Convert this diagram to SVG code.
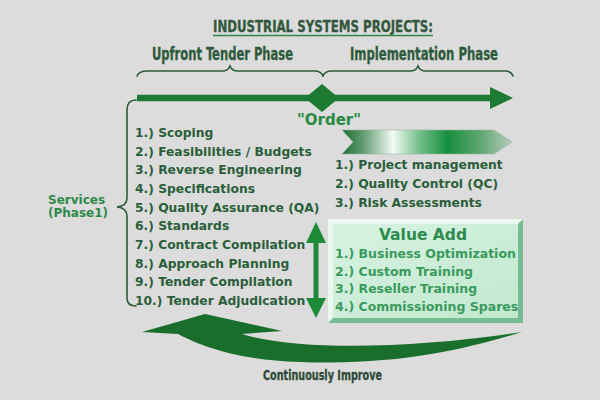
<svg xmlns="http://www.w3.org/2000/svg" width="600" height="400" viewBox="0 0 600 400">
<defs>
<style>
.cond{font-family:"DejaVu Sans Condensed","Liberation Sans Narrow","DejaVu Sans",sans-serif;font-weight:bold;font-stretch:condensed}
.lst{font-family:"DejaVu Sans","Verdana",sans-serif;font-weight:bold;font-size:12.3px;fill:#2b5e3a}
.va{font-family:"DejaVu Sans","Verdana",sans-serif;font-weight:bold;font-size:12.5px;fill:#3a9a5c}
.brace{fill:none;stroke:#2e5a3c;stroke-width:1.6;stroke-linecap:round}
.grn{fill:#1d7a32}
</style>
<linearGradient id="arrowGrad" x1="0" y1="0" x2="1" y2="0">
<stop offset="0" stop-color="#1f6e30"/>
<stop offset="0.12" stop-color="#5f9a6e"/>
<stop offset="0.3" stop-color="#f2fbf4"/>
<stop offset="0.45" stop-color="#78c08e"/>
<stop offset="0.62" stop-color="#16903e"/>
<stop offset="0.8" stop-color="#5aa46c"/>
<stop offset="1" stop-color="#b7ccbd"/>
</linearGradient>
<linearGradient id="faceGrad" x1="0" y1="0" x2="1" y2="1">
<stop offset="0" stop-color="#d6f3e1"/>
<stop offset="1" stop-color="#c2e8cf"/>
</linearGradient>
</defs>
<rect x="0" y="0" width="600" height="400" fill="#dbdcdb"/>

<g id="title">
<text class="cond" x="213" y="32" font-size="15.5" fill="#33573e" stroke="#33573e" stroke-width="0.3" textLength="220" lengthAdjust="spacingAndGlyphs">INDUSTRIAL SYSTEMS PROJECTS:</text>
<line x1="213" y1="35.5" x2="433" y2="35.5" stroke="#2f8a45" stroke-width="1.5"/>
</g>

<g id="phase-upfront">
<text class="cond" x="152" y="60" font-size="17" fill="#2f5a3c" stroke="#2f5a3c" stroke-width="0.3" textLength="141" lengthAdjust="spacingAndGlyphs">Upfront Tender Phase</text>
<path class="brace" d="M137,76 Q139,71 147,71 L222,71 Q228,71 230,66 Q232,71 238,71 L315,71 Q321,71 323,76"/>
</g>

<g id="phase-implementation">
<text class="cond" x="350" y="60" font-size="17" fill="#2f5a3c" stroke="#2f5a3c" stroke-width="0.3" textLength="148" lengthAdjust="spacingAndGlyphs">Implementation Phase</text>
<path class="brace" d="M323,76 Q325,71 331,71 L410,71 Q416,71 418,66 Q420,71 426,71 L505,71 Q511,71 513,76"/>
</g>

<g id="connectors">
<line x1="137" y1="98" x2="495" y2="98" stroke="#1d7a32" stroke-width="6.5"/>
<polygon class="grn" points="490,87 513,98 490,109"/>
<line x1="316" y1="238" x2="316" y2="302" stroke="#1d8a38" stroke-width="5"/>
<polygon points="316,222 306,243 326,243" fill="#1d8a38"/>
<polygon points="316,318 306,298 326,298" fill="#1d8a38"/>
<path d="M142,332 L205,314 L282,331 L242,334 C 300,352 420,348 522,332 C 470,348 400,366 300,362 C 240,360 205,348 178,334 Z" fill="#1a6e2c"/>
</g>

<g id="order">
<polygon class="grn" points="322,84 339,98 322,112 305,98"/>
<text x="297" y="125" font-family="DejaVu Sans, Verdana, sans-serif" font-weight="bold" font-size="15" fill="#2a8a42">"Order"</text>
</g>

<g id="implementation-arrow">
<polygon points="342,130 494,130 512,142 494,154 342,154 353,142" fill="url(#arrowGrad)" stroke="#9bb5a2" stroke-width="0.6"/>
</g>

<g id="services">
<text x="48" y="204" font-family="DejaVu Sans, Verdana, sans-serif" font-weight="bold" font-size="12" fill="#2f8a4a">Services</text>
<text x="48" y="217" font-family="DejaVu Sans, Verdana, sans-serif" font-weight="bold" font-size="12" fill="#2f8a4a">(Phase1)</text>
<path class="brace" d="M136,100 Q127,100 127,110 L127,198 Q127,206 117,207 Q127,208 127,216 L127,298 Q127,306 136,306"/>
</g>

<g id="services-list">
<text class="lst" x="135" y="137">1.) Scoping</text>
<text class="lst" x="135" y="155.7">2.) Feasibilities / Budgets</text>
<text class="lst" x="135" y="174.3">3.) Reverse Engineering</text>
<text class="lst" x="135" y="193">4.) Specifications</text>
<text class="lst" x="135" y="211.7">5.) Quality Assurance (QA)</text>
<text class="lst" x="135" y="230.3">6.) Standards</text>
<text class="lst" x="135" y="249">7.) Contract Compilation</text>
<text class="lst" x="135" y="267.7">8.) Approach Planning</text>
<text class="lst" x="135" y="286.3">9.) Tender Compilation</text>
<text class="lst" x="135" y="305">10.) Tender Adjudication</text>
</g>

<g id="implementation-list">
<text class="lst" x="335" y="169">1.) Project management</text>
<text class="lst" x="335" y="188">2.) Quality Control (QC)</text>
<text class="lst" x="335" y="207">3.) Risk Assessments</text>
</g>

<g id="value-add">
<rect x="328" y="219" width="195" height="104" fill="#78bd92"/>
<polygon points="328,219 523,219 518,224 333,224 333,318 328,323" fill="#eaf8ef"/>
<rect x="333" y="224" width="185" height="94" fill="url(#faceGrad)"/>
<text x="423" y="240" text-anchor="middle" font-family="DejaVu Sans, Verdana, sans-serif" font-weight="bold" font-size="15.5" fill="#2e8a4e">Value Add</text>
<text class="va" x="335" y="258">1.) Business Optimization</text>
<text class="va" x="335" y="276">2.) Custom Training</text>
<text class="va" x="335" y="293">3.) Reseller Training</text>
<text class="va" x="335" y="311">4.) Commissioning Spares</text>
</g>

<g id="continuously-improve">
<text class="cond" x="263" y="380" font-size="14" fill="#2f4a38" stroke="#2f4a38" stroke-width="0.3" textLength="119" lengthAdjust="spacingAndGlyphs">Continuously Improve</text>
</g>
</svg>
